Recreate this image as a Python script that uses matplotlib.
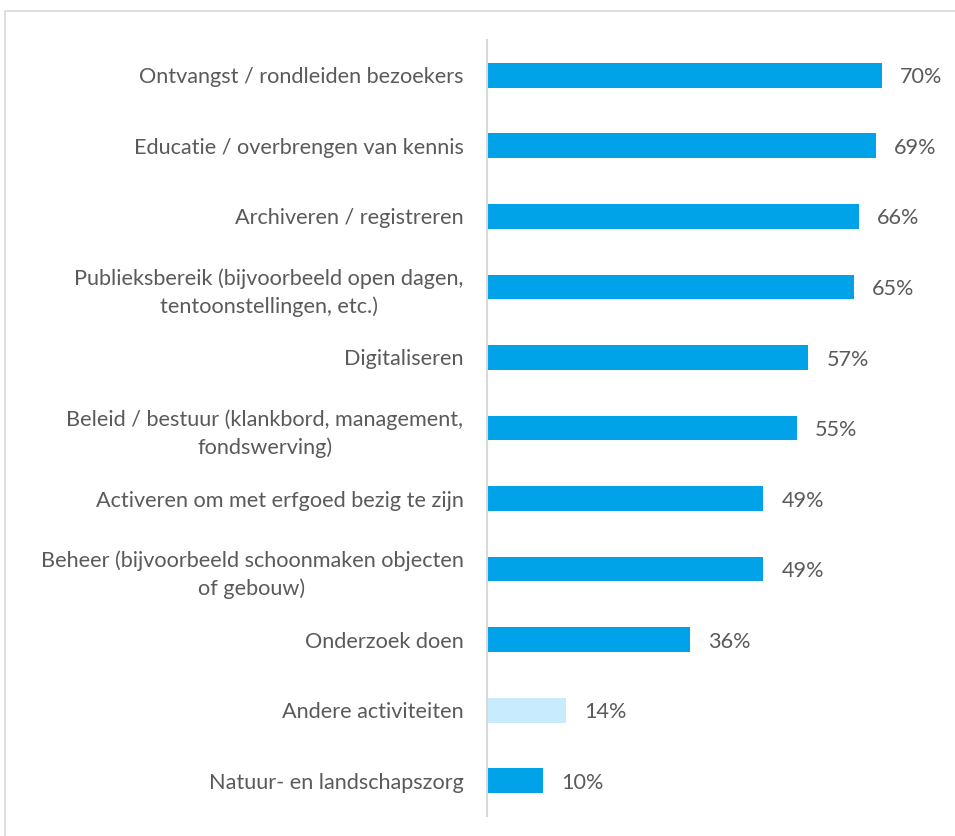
import matplotlib
matplotlib.use("Agg")
import matplotlib.pyplot as plt
from matplotlib.patches import Rectangle

categories = [
    "Ontvangst / rondleiden bezoekers",
    "Educatie / overbrengen van kennis",
    "Archiveren / registreren",
    "Publieksbereik (bijvoorbeeld open dagen,\ntentoonstellingen, etc.)",
    "Digitaliseren",
    "Beleid / bestuur (klankbord, management,\nfondswerving)",
    "Activeren om met erfgoed bezig te zijn",
    "Beheer (bijvoorbeeld schoonmaken objecten\nof gebouw)",
    "Onderzoek doen",
    "Andere activiteiten",
    "Natuur- en landschapszorg",
]
values = [70, 69, 66, 65, 57, 55, 49, 49, 36, 14, 10]
highlight = ["Andere activiteiten"]

BLUE = "#00a2e8"
LIGHT = "#c8ecfb"
TEXT = "#5a5a5a"


def main():
    plt.rcParams['font.family'] = ['Lato', 'DejaVu Sans']

    fig = plt.figure(figsize=(9.55, 8.36), dpi=100)
    W, H = 955, 836
    ax = fig.add_axes([487 / W, (H - 816) / H, (W - 487) / W, 776 / H])

    # light frame around the chart (open to the right/bottom)
    fig.patches.append(Rectangle((5 / W, -0.1), 1.1, (H - 11) / H + 0.1,
                                 transform=fig.transFigure, fill=False,
                                 edgecolor="#d9d9d9", linewidth=1.2))

    y = range(len(categories))
    colors = [LIGHT if c in highlight else BLUE for c in categories]
    ax.barh(y, values, height=0.35, color=colors)

    for yi, v in zip(y, values):
        ax.text(v + 3.2, yi + 0.03, f"{v}%", va='center', ha='left', fontsize=15.6, color=TEXT)

    ax.set_ylim(len(categories) - 0.5, -0.5)
    ax.set_xlim(0, 83)
    ax.set_yticks(list(y))
    ax.set_yticklabels(categories, fontsize=15.6, color=TEXT, multialignment='center',
                       linespacing=1.45)
    ax.tick_params(axis='y', length=0, pad=17)
    ax.set_xticks([])
    for s in ['top', 'right', 'bottom']:
        ax.spines[s].set_visible(False)
    ax.spines['left'].set_color("#d9d9d9")
    ax.spines['left'].set_linewidth(1.5)

    fig.savefig("out.png", dpi=100)


if __name__ == '__main__':
    main()
